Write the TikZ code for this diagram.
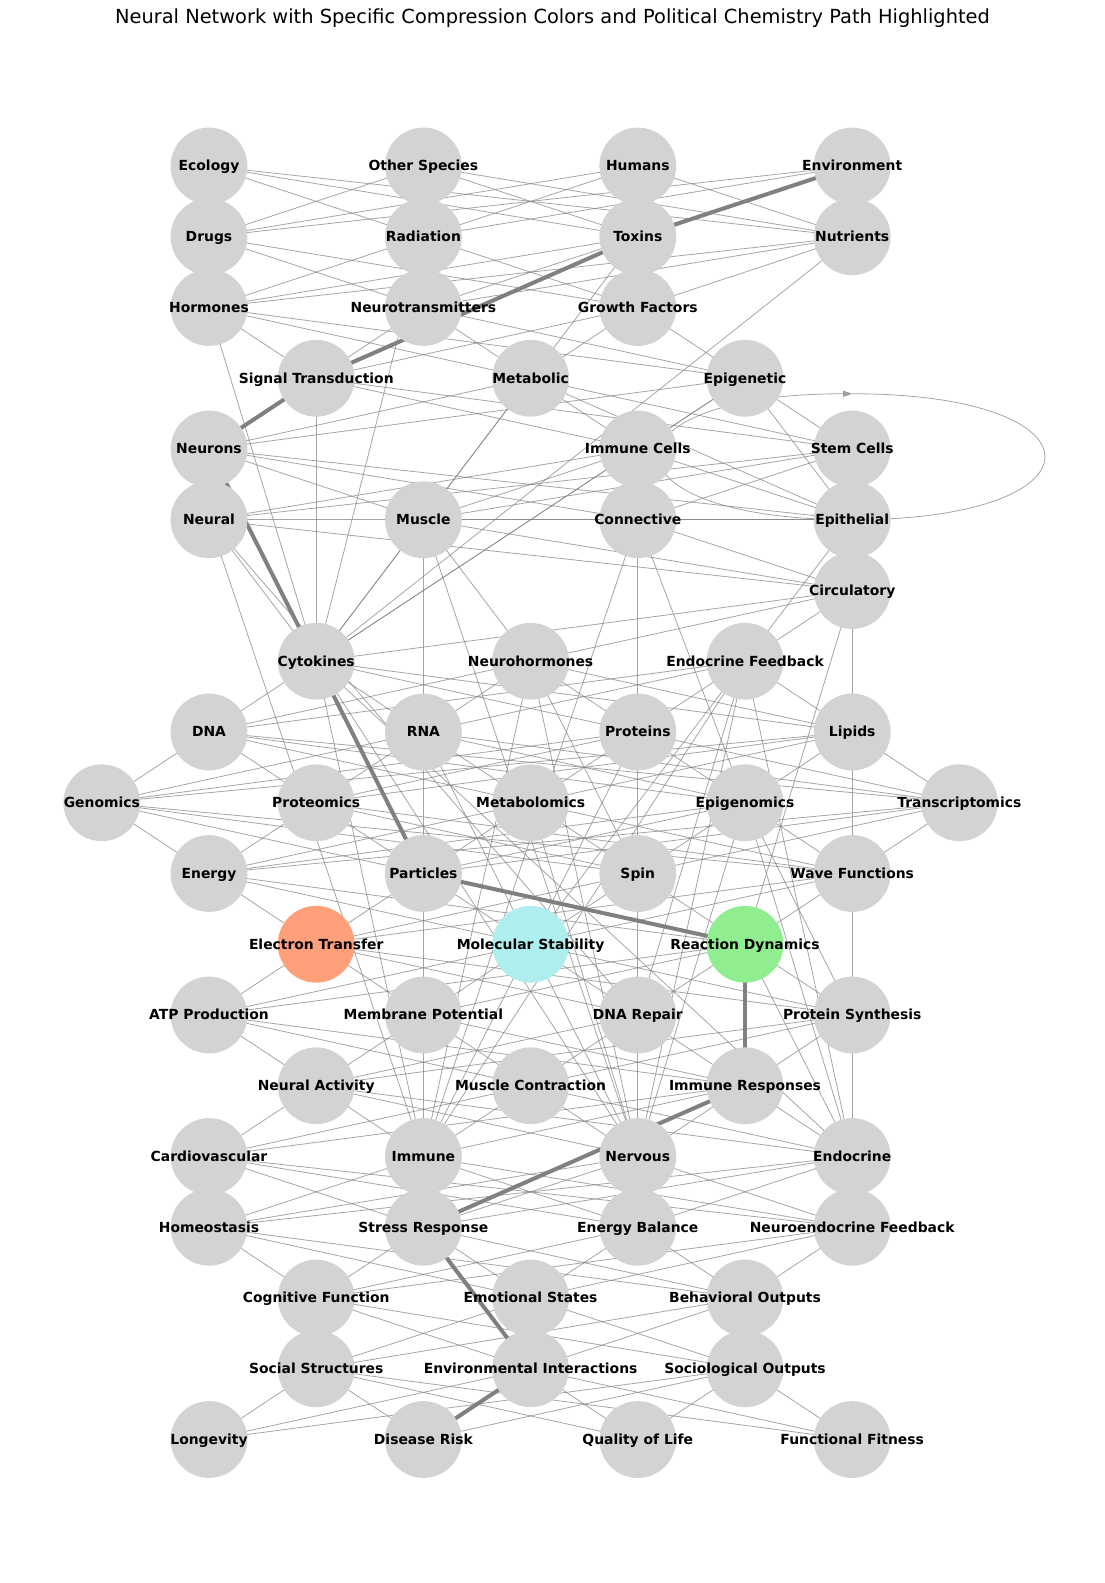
\documentclass[tikz,border=0pt]{standalone}
\usepackage{fontspec}
\setmainfont{DejaVu Sans}
\usetikzlibrary{arrows.meta}
\definecolor{ndgray}{HTML}{D3D3D3}
\definecolor{ndsalmon}{HTML}{FFA07A}
\definecolor{ndturq}{HTML}{AFEEEE}
\definecolor{ndgreen}{HTML}{90EE90}
\pgfdeclarelayer{edges}
\pgfsetlayers{edges,main}
\newcommand\nd[5][]{\node[nd,#1] (#2) at ({209+107.2*(#3-1)},{166+70.75*#4}) {};
  \node[lbl] (#2-l) at (#2.center) {#5};}
\begin{document}
\begin{tikzpicture}[x=1pt,y=-1pt,
  nd/.style={circle,fill=ndgray,minimum size=76.8pt,inner sep=0pt,outer sep=0pt},
  lbl/.style={inner sep=0pt,yshift=-1pt,text height=10.6pt,text depth=2.9pt,font=\fontsize{13.9}{16}\selectfont\bfseries},
  ed/.style={draw=gray,line width=0.8pt,opacity=0.7},
  hl/.style={draw=gray,line width=4pt},
  title/.style={font=\fontsize{19.4}{22}\selectfont}]
\useasboundingbox (0,0) rectangle (1105,1583);
\begin{pgfonlayer}{edges}
\fill[white] (0,0) rectangle (1105,1583);
\end{pgfonlayer}
\node[title] (ttl) at (552.5,18.5) {Neural Network with Specific Compression Colors and Political Chemistry Path Highlighted};
% nodes
\nd{eco}{1}{0}{Ecology}\nd{oth}{3}{0}{Other Species}\nd{hum}{5}{0}{Humans}\nd{env}{7}{0}{Environment}
\nd{drg}{1}{1}{Drugs}\nd{rad}{3}{1}{Radiation}\nd{tox}{5}{1}{Toxins}\nd{nut}{7}{1}{Nutrients}
\nd{hor}{1}{2}{Hormones}\nd{ntr}{3}{2}{Neurotransmitters}\nd{grf}{5}{2}{Growth Factors}
\nd{sig}{2}{3}{Signal Transduction}\nd{met}{4}{3}{Metabolic}\nd{epg}{6}{3}{Epigenetic}
\nd{neu}{1}{4}{Neurons}\nd{imc}{5}{4}{Immune Cells}\nd{stc}{7}{4}{Stem Cells}
\nd{nrl}{1}{5}{Neural}\nd{mus}{3}{5}{Muscle}\nd{con}{5}{5}{Connective}\nd{epi}{7}{5}{Epithelial}
\nd{cir}{7}{6}{Circulatory}
\nd{cyt}{2}{7}{Cytokines}\nd{nho}{4}{7}{Neurohormones}\nd{ef}{6}{7}{Endocrine Feedback}
\nd{dna}{1}{8}{DNA}\nd{rna}{3}{8}{RNA}\nd{pro}{5}{8}{Proteins}\nd{lip}{7}{8}{Lipids}
\nd{gen}{0}{9}{Genomics}\nd{prm}{2}{9}{Proteomics}\nd{mtb}{4}{9}{Metabolomics}\nd{epm}{6}{9}{Epigenomics}\nd{trm}{8}{9}{Transcriptomics}
\nd{enr}{1}{10}{Energy}\nd{par}{3}{10}{Particles}\nd{spn}{5}{10}{Spin}\nd{wav}{7}{10}{Wave Functions}
\nd[fill=ndsalmon]{et}{2}{11}{Electron Transfer}\nd[fill=ndturq]{ms}{4}{11}{Molecular Stability}\nd[fill=ndgreen]{rd}{6}{11}{Reaction Dynamics}
\nd{atp}{1}{12}{ATP Production}\nd{mp}{3}{12}{Membrane Potential}\nd{dnr}{5}{12}{DNA Repair}\nd{ps}{7}{12}{Protein Synthesis}
\nd{na}{2}{13}{Neural Activity}\nd{mc}{4}{13}{Muscle Contraction}\nd{ir}{6}{13}{Immune Responses}
\nd{car}{1}{14}{Cardiovascular}\nd{imm}{3}{14}{Immune}\nd{ner}{5}{14}{Nervous}\nd{end}{7}{14}{Endocrine}
\nd{hom}{1}{15}{Homeostasis}\nd{sr}{3}{15}{Stress Response}\nd{eb}{5}{15}{Energy Balance}\nd{nef}{7}{15}{Neuroendocrine Feedback}
\nd{cf}{2}{16}{Cognitive Function}\nd{es}{4}{16}{Emotional States}\nd{bo}{6}{16}{Behavioral Outputs}
\nd{ss}{2}{17}{Social Structures}\nd{ei}{4}{17}{Environmental Interactions}\nd{so}{6}{17}{Sociological Outputs}
\nd{lon}{1}{18}{Longevity}\nd{dr}{3}{18}{Disease Risk}\nd{qol}{5}{18}{Quality of Life}\nd{ff}{7}{18}{Functional Fitness}
\begin{pgfonlayer}{edges}
% layer to layer
\foreach \a/\bl in {
 eco/{drg,rad,tox,nut}, oth/{drg,rad,tox,nut}, hum/{drg,rad,tox,nut}, env/{drg,rad,tox,nut},
 drg/{hor,ntr,grf}, rad/{hor,ntr,grf}, tox/{hor,ntr,grf}, nut/{hor,ntr,grf},
 hor/{sig,met,epg}, ntr/{sig,met,epg}, grf/{sig,met,epg},
 sig/{neu,imc,stc}, met/{neu,imc,stc}, epg/{neu,imc,stc},
 neu/{nrl,mus,con,epi}, imc/{nrl,mus,con,epi}, stc/{nrl,mus,con,epi},
 cir/{nrl,mus,con,epi,cyt,nho,ef},
 cyt/{dna,rna,pro,lip}, nho/{dna,rna,pro,lip}, ef/{dna,rna,pro,lip},
 dna/{gen,prm,mtb,epm,trm}, rna/{gen,prm,mtb,epm,trm}, pro/{gen,prm,mtb,epm,trm}, lip/{gen,prm,mtb,epm,trm},
 enr/{gen,prm,mtb,epm,trm}, par/{gen,prm,mtb,epm,trm}, spn/{gen,prm,mtb,epm,trm}, wav/{gen,prm,mtb,epm,trm},
 et/{enr,par,spn,wav}, ms/{enr,par,spn,wav}, rd/{enr,par,spn,wav},
 et/{atp,mp,dnr,ps}, ms/{atp,mp,dnr,ps}, rd/{atp,mp,dnr,ps},
 na/{atp,mp,dnr,ps}, mc/{atp,mp,dnr,ps}, ir/{atp,mp,dnr,ps},
 na/{car,imm,ner,end}, mc/{car,imm,ner,end}, ir/{car,imm,ner,end},
 car/{hom,sr,eb,nef}, imm/{hom,sr,eb,nef}, ner/{hom,sr,eb,nef}, end/{hom,sr,eb,nef},
 cf/{hom,sr,eb,nef}, es/{hom,sr,eb,nef}, bo/{hom,sr,eb,nef},
 ss/{cf,es,bo}, ei/{cf,es,bo}, so/{cf,es,bo},
 ss/{lon,dr,qol,ff}, ei/{lon,dr,qol,ff}, so/{lon,dr,qol,ff}}
 {\foreach \b in \bl {\draw[ed] (\a.center) -- (\b.center);}}
% extra links
\foreach \a/\b in {hor/cyt, rad/cyt, nut/cyt, sig/cyt, tox/cyt, met/cyt, cyt/epg, cyt/imc,
 nrl/cyt, nrl/dnr, nrl/imm, mus/rna, rna/par, par/mp, mp/imm, con/pro, pro/spn, spn/dnr, dnr/ner,
 cir/lip, lip/wav, wav/ps, ps/end, nrl/epi, mus/epi, cir/rd,
 ef/imm, ef/ner, ef/end, ef/dnr, ef/ms,
 epm/ps, met/epi, epg/epi, epi/ef,
 mus/nho, mus/ner, con/imm, con/epm,
 cyt/ner, cyt/imm, cyt/end,
 nho/imm, nho/ner, nho/spn,
 pro/imm, rna/ner, mtb/ner, epm/ner, epm/end, rd/end}
 {\draw[ed] (\a.center) -- (\b.center);}
% self loop
\coordinate (lt) at ([yshift=126pt]epi.center);
\draw[ed,-{Triangle[length=9pt,width=6pt]}] (lt) .. controls +(257,0) and +(257,0) .. (epi.center) .. controls +(-257,0) and +(-257,0) .. (lt);
% highlighted path
\foreach \a/\b in {env/tox, tox/sig, sig/neu, neu/cyt, cyt/par, par/rd, rd/ir, ir/sr, sr/ei, ei/dr}
 {\draw[hl] (\a.center) -- (\b.center);}
\end{pgfonlayer}
\end{tikzpicture}
\end{document}
